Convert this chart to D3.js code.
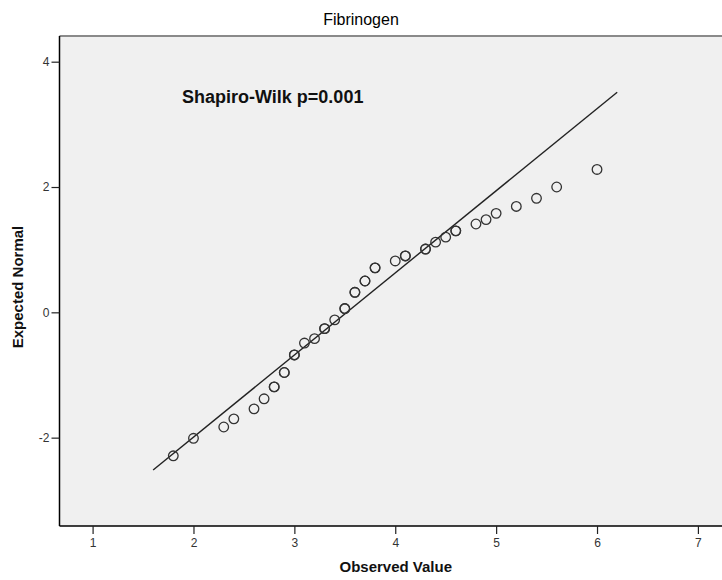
<!DOCTYPE html>
<html>
<head>
<meta charset="utf-8">
<script src="https://cdn.jsdelivr.net/npm/d3@7"></script>
<style>
  html, body { margin: 0; padding: 0; background: #ffffff; }
  svg { display: block; font-family: "Liberation Sans", Arial, sans-serif; }
</style>
</head>
<body>
<svg id="chart" width="722" height="580"></svg>
<script>
// Normal Q-Q plot of Fibrinogen: observed values vs. expected normal scores
const observed = [1.8, 2.0, 2.3, 2.4, 2.6, 2.7, 2.8, 2.9, 3.0, 3.1, 3.2, 3.3, 3.4, 3.5, 3.6, 3.7, 3.8,
                  4.0, 4.1, 4.3, 4.4, 4.5, 4.6, 4.8, 4.9, 5.0, 5.2, 5.4, 5.6, 6.0];
const expected = [-2.29, -2.01, -1.83, -1.70, -1.54, -1.38, -1.19, -0.96, -0.68, -0.49, -0.42, -0.26, -0.12,
                  0.06, 0.32, 0.50, 0.71, 0.82, 0.90, 1.01, 1.12, 1.20, 1.30, 1.41, 1.48, 1.58, 1.69, 1.82, 2.00, 2.28];
// number of cases sharing each observed value (tied cases overlap on the same spot)
const caseCount = [1, 1, 1, 1, 1, 1, 2, 2, 2, 1, 1, 2, 1, 2, 2, 2, 2, 1, 2, 2, 1, 1, 2, 1, 1, 1, 1, 1, 1, 1];
// reference line: y = (x - mean) / sd, drawn across this observed range
const fitMean = 3.52, fitSd = 0.763;
const lineRange = [1.6, 6.2];
const xTicks = [1, 2, 3, 4, 5, 6, 7];
const yTicks = [-2, 0, 2, 4];
const titleText = "Fibrinogen";
const noteText = "Shapiro-Wilk p=0.001";
const xTitle = "Observed Value";
const yTitle = "Expected Normal";

const svg = d3.select("#chart");
const plot = { left: 59.5, right: 731, top: 36, bottom: 526 };

const x = d3.scaleLinear().domain([0.672, 7.328]).range([plot.left, plot.right]);
const y = d3.scaleLinear().domain([-3.41, 4.41]).range([plot.bottom, plot.top]);

// integer tick labels with a plain hyphen for negatives
const intLabel = d => String(d);

// plot background
svg.append("rect")
  .attr("x", plot.left).attr("y", plot.top)
  .attr("width", plot.right - plot.left).attr("height", plot.bottom - plot.top)
  .attr("fill", "#f0f0f0");

// frame: grey top edge, black left and bottom axes
svg.append("line")
  .attr("x1", plot.left).attr("x2", plot.right)
  .attr("y1", plot.top).attr("y2", plot.top)
  .attr("stroke", "#8a8a8a").attr("stroke-width", 2);

const xAxis = svg.append("g")
  .attr("transform", `translate(0,${plot.bottom})`)
  .call(d3.axisBottom(x).tickValues(xTicks).tickFormat(intLabel).tickSize(8).tickPadding(4));
const yAxis = svg.append("g")
  .attr("transform", `translate(${plot.left},0)`)
  .call(d3.axisLeft(y).tickValues(yTicks).tickFormat(intLabel).tickSize(8).tickPadding(2));

[xAxis, yAxis].forEach(g => {
  g.select(".domain").attr("stroke", "#000").attr("stroke-width", 1.5);
  g.selectAll(".tick line").attr("stroke", "#222").attr("stroke-width", 1.2);
  g.selectAll(".tick text")
    .attr("fill", "#333")
    .style("font-size", "12px")
    .style("font-family", "'Liberation Sans', Arial, sans-serif");
});
xAxis.select(".domain").attr("d", `M${plot.left},0H${plot.right}`);
yAxis.select(".domain").attr("d", `M0,${plot.top}V${plot.bottom}`);

// reference line
svg.append("line")
  .attr("x1", x(lineRange[0])).attr("y1", y((lineRange[0] - fitMean) / fitSd))
  .attr("x2", x(lineRange[1])).attr("y2", y((lineRange[1] - fitMean) / fitSd))
  .attr("stroke", "#222").attr("stroke-width", 1.4);

// points, one circle per case
const cases = [];
observed.forEach((v, i) => {
  for (let k = 0; k < caseCount[i]; k++) cases.push({ x: v, y: expected[i] });
});
svg.append("g").selectAll("circle")
  .data(cases)
  .join("circle")
  .attr("cx", d => x(d.x))
  .attr("cy", d => y(d.y))
  .attr("r", 4.8)
  .attr("fill", "none")
  .attr("stroke", "#333")
  .attr("stroke-width", 1.3);

// annotation
svg.append("text")
  .attr("x", 182).attr("y", 103)
  .attr("fill", "#111")
  .style("font-size", "18px")
  .style("font-weight", "bold")
  .text(noteText);

// titles
svg.append("text")
  .attr("x", 361).attr("y", 25)
  .attr("text-anchor", "middle")
  .attr("fill", "#000")
  .style("font-size", "16px")
  .text(titleText);

svg.append("text")
  .attr("x", (plot.left + 722) / 2 + 5).attr("y", 572)
  .attr("text-anchor", "middle")
  .attr("fill", "#111")
  .style("font-size", "15px")
  .style("font-weight", "bold")
  .text(xTitle);

svg.append("text")
  .attr("transform", `translate(23,${(plot.top + plot.bottom) / 2 + 6}) rotate(-90)`)
  .attr("text-anchor", "middle")
  .attr("fill", "#111")
  .style("font-size", "15px")
  .style("font-weight", "bold")
  .text(yTitle);
</script>
</body>
</html>
